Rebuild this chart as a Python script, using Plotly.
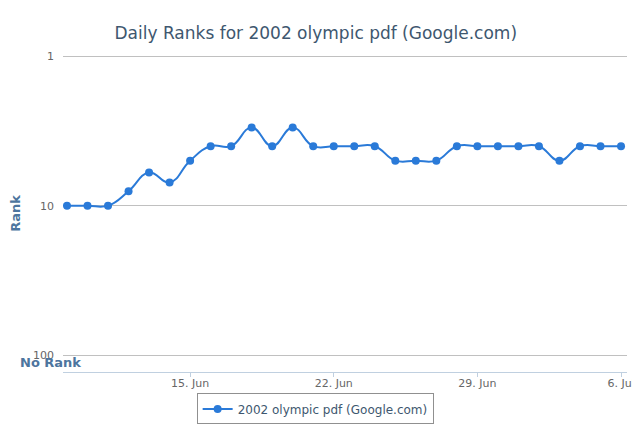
import plotly.graph_objects as go

dates = [
    "2002-06-09", "2002-06-10", "2002-06-11", "2002-06-12", "2002-06-13",
    "2002-06-14", "2002-06-15", "2002-06-16", "2002-06-17", "2002-06-18",
    "2002-06-19", "2002-06-20", "2002-06-21", "2002-06-22", "2002-06-23",
    "2002-06-24", "2002-06-25", "2002-06-26", "2002-06-27", "2002-06-28",
    "2002-06-29", "2002-06-30", "2002-07-01", "2002-07-02", "2002-07-03",
    "2002-07-04", "2002-07-05", "2002-07-06",
]
ranks = [10, 10, 10, 8, 6, 7, 5, 4, 4, 3, 4, 3, 4, 4, 4, 4, 5, 5, 5, 4,
         4, 4, 4, 4, 5, 4, 4, 4]

y_tickvals = [1, 10, 100]
y_ticktext = ["1", "10", "100"]

series_name = "2002 olympic pdf (Google.com)"
title_text = "Daily Ranks for 2002 olympic pdf (Google.com)"

line_color = "#2a7ad8"
title_color = "#3E576F"
axis_title_color = "#4d759e"

fig = go.Figure()
fig.add_trace(go.Scatter(
    x=dates,
    y=ranks,
    mode="lines+markers",
    name=series_name,
    line={"color": line_color, "width": 2, "shape": "spline", "smoothing": 1.3},
    marker={"color": line_color, "size": 8},
))

# page body has an 8px margin, so the figure is a bit smaller than the window
fig.update_layout(
    width=632,
    height=422,
    paper_bgcolor="white",
    plot_bgcolor="white",
    font={"family": "DejaVu Sans", "color": "#666666", "size": 11},
    margin={"l": 55, "r": 13, "t": 47, "b": 58},
    title={
        "text": title_text,
        "x": 0.487,
        "xanchor": "center",
        "y": 0.941,
        "yanchor": "middle",
        "font": {"size": 17, "color": title_color, "family": "DejaVu Sans"},
    },
    showlegend=True,
    legend={
        "xref": "container",
        "yref": "container",
        "x": 0.486,
        "xanchor": "center",
        "y": 0.05,
        "yanchor": "middle",
        "orientation": "h",
        "bordercolor": "#909090",
        "borderwidth": 1,
        "font": {"size": 12, "color": title_color},
    },
    xaxis={
        "type": "date",
        "automargin": False,
        "range": ["2002-06-08 19:20", "2002-07-06 07:00"],
        "tick0": "2002-06-15",
        "dtick": 7 * 24 * 3600 * 1000,
        "tickformat": "%-d. %b",
        "ticklabeloverflow": "allow",
        "showgrid": False,
        "showline": True,
        "linecolor": "#C0D0E0",
        "linewidth": 1,
        "ticks": "outside",
        "ticklen": 4,
        "tickcolor": "#C0D0E0",
        "ticklabelstandoff": -3,
        "tickfont": {"size": 11, "color": "#666666"},
        "zeroline": False,
    },
    yaxis={
        "type": "log",
        "automargin": False,
        "range": [2.113, -0.008],
        "tickvals": y_tickvals,
        "ticktext": y_ticktext,
        "showgrid": True,
        "gridcolor": "#C0C0C0",
        "gridwidth": 1,
        "showline": False,
        "zeroline": False,
        "ticks": "",
        "ticklabelstandoff": 8,
        "tickfont": {"size": 11, "color": "#666666"},
        "title": {
            "text": "<b>Rank</b>",
            "font": {"size": 13, "color": axis_title_color},
            "standoff": 14,
        },
    },
)

fig.add_annotation(
    text="<b>No Rank</b>",
    xref="paper", yref="paper",
    x=-0.023, y=10 / 317,
    xanchor="center", yanchor="middle",
    showarrow=False,
    font={"size": 13, "color": axis_title_color, "family": "DejaVu Sans"},
)

fig.write_html("out.html")
